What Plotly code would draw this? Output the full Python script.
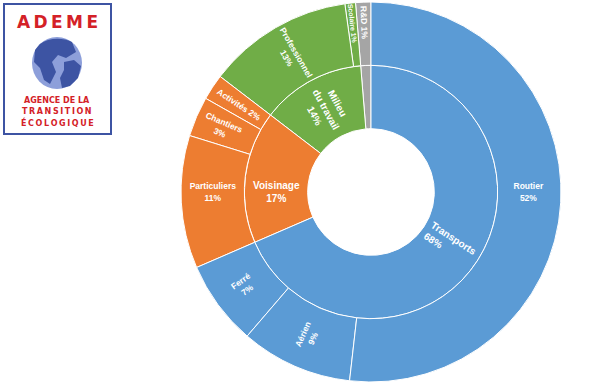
import math
import plotly.graph_objects as go

# ---- data (listed counter-clockwise from 12 o'clock) ----
ids = ["root", "Autre", "Milieu", "Voisinage", "Transports",
       "R&D",
       "Scolaire", "Professionnel",
       "Activités", "Chantiers", "Particuliers",
       "Ferré", "Aérien", "Routier"]
labels = ["", "", "Milieu<br>du travail", "Voisinage", "Transports",
          "R&D",
          "Scolaire", "Professionnel",
          "Activités", "Chantiers", "Particuliers",
          "Ferré", "Aérien", "Routier"]
parents = ["", "root", "root", "root", "root",
           "Autre",
           "Milieu", "Milieu",
           "Voisinage", "Voisinage", "Voisinage",
           "Transports", "Transports", "Transports"]
values = [0, 0, 0, 0, 0,
          1.3,
          0.9, 12.4,
          2.2, 3.4, 11.3,
          7.2, 9.5, 51.8]
pct_labels = ["", "", "14%", "17%", "68%",
              "1%",
              "1%", "13%",
              "2%", "3%", "11%",
              "7%", "9%", "52%"]

BLUE, ORANGE, GREEN, GREY = "#5B9BD5", "#ED7D31", "#70AD47", "#A5A5A5"
colors = ["white", GREY, GREEN, ORANGE, BLUE,
          GREY, GREEN, GREEN, ORANGE, ORANGE, ORANGE, BLUE, BLUE, BLUE]

texts = []
for lab, p in zip(labels, pct_labels):
    if not lab or lab == "Transports":
        texts.append("")
    elif lab in ("Activités", "Scolaire", "R&D"):
        texts.append(f"{lab} {p}")
    else:
        texts.append(f"{lab}<br>{p}")

sizes = [10, 10, 10, 10, 10] + [8.5] * 9

# pixel geometry of the ring
CX, CY, R = 371, 192, 190
fig = go.Figure(go.Sunburst(
    ids=ids, labels=labels, parents=parents, values=values,
    branchvalues="remainder", sort=False, rotation=90,
    text=texts, textinfo="text",
    marker=dict(colors=colors, line=dict(color="white", width=1)),
    leaf=dict(opacity=1),
    textfont=dict(color="white", family="Liberation Sans", size=sizes, weight="bold"),
    insidetextorientation="radial",
    hoverinfo="skip",
    domain=dict(x=[(CX - R) / 600, (CX + R) / 600], y=[1 - (CY + R) / 384, 1 - (CY - R) / 384]),
))

# Transports label, radial at the middle of its slice (clockwise from 12 o'clock)
total = sum(values)
t_idx = ids.index("Transports")
t_val = sum(v for v, p in zip(values, parents) if p == "Transports")
theta = math.radians(360 * (t_val / 2) / total)
r_mid = R * 1.5 / 3
tx = CX + r_mid * math.sin(theta)
ty = CY - r_mid * math.cos(theta)

# ---- ADEME logo (drawn with shapes) ----
fig.update_layout(
    xaxis=dict(range=[0, 600], visible=False, fixedrange=True),
    yaxis=dict(range=[384, 0], visible=False, fixedrange=True),
)
RED = "#D42127"
LOGOBLUE = "#3D54A3"
shapes = [
    dict(type="rect", xref="x", yref="y", x0=4, y0=4, x1=111, y1=134,
         line=dict(color=LOGOBLUE, width=2), fillcolor="white"),
    dict(type="circle", xref="x", yref="y", x0=32, y0=37, x1=82, y1=89,
         line=dict(width=0), fillcolor="#8D9FDA"),
    dict(type="path", xref="x", yref="y",
         path="M40,44 C48,38 62,37 72,42 L76,52 L66,58 L58,55 L52,62 L56,72 L50,84 L44,80 L40,68 L34,62 L35,50 Z",
         line=dict(width=0), fillcolor=LOGOBLUE),
    dict(type="path", xref="x", yref="y",
         path="M64,62 L74,60 L81,66 L78,78 L70,86 L62,88 L60,78 L64,70 Z",
         line=dict(width=0), fillcolor=LOGOBLUE),
]
ts = "\u2009"
annotations = [
    dict(text=f"Transports<br>{pct_labels[t_idx]}", x=tx, y=ty, xref="x", yref="y",
         showarrow=False, textangle=math.degrees(theta) - 90, align="left",
         font=dict(family="Liberation Sans", size=10, color="white", weight="bold")),
    dict(text="<b>" + ts.join("ADEME") + "</b>", x=57, y=22, xref="x", yref="y", showarrow=False,
         font=dict(family="DejaVu Sans", size=17, color=RED)),
    dict(text="<b>AGENCE DE LA</b>", x=57, y=100, xref="x", yref="y", showarrow=False,
         font=dict(family="DejaVu Sans", size=8, color=RED)),
    dict(text="<b>" + ts.join("TRANSITION") + "</b>", x=57, y=111, xref="x", yref="y", showarrow=False,
         font=dict(family="DejaVu Sans", size=8, color=RED)),
    dict(text="<b>" + ts.join("ÉCOLOGIQUE") + "</b>", x=57, y=122, xref="x", yref="y", showarrow=False,
         font=dict(family="DejaVu Sans", size=8, color=RED)),
]

fig.update_layout(
    width=600, height=384,
    margin=dict(l=0, r=0, t=0, b=0),
    paper_bgcolor="white", plot_bgcolor="white",
    showlegend=False,
    shapes=shapes, annotations=annotations,
)

fig.write_html("out.html", config={"displayModeBar": False},
               post_script="document.body.style.margin='0';document.body.style.overflow='hidden';")
